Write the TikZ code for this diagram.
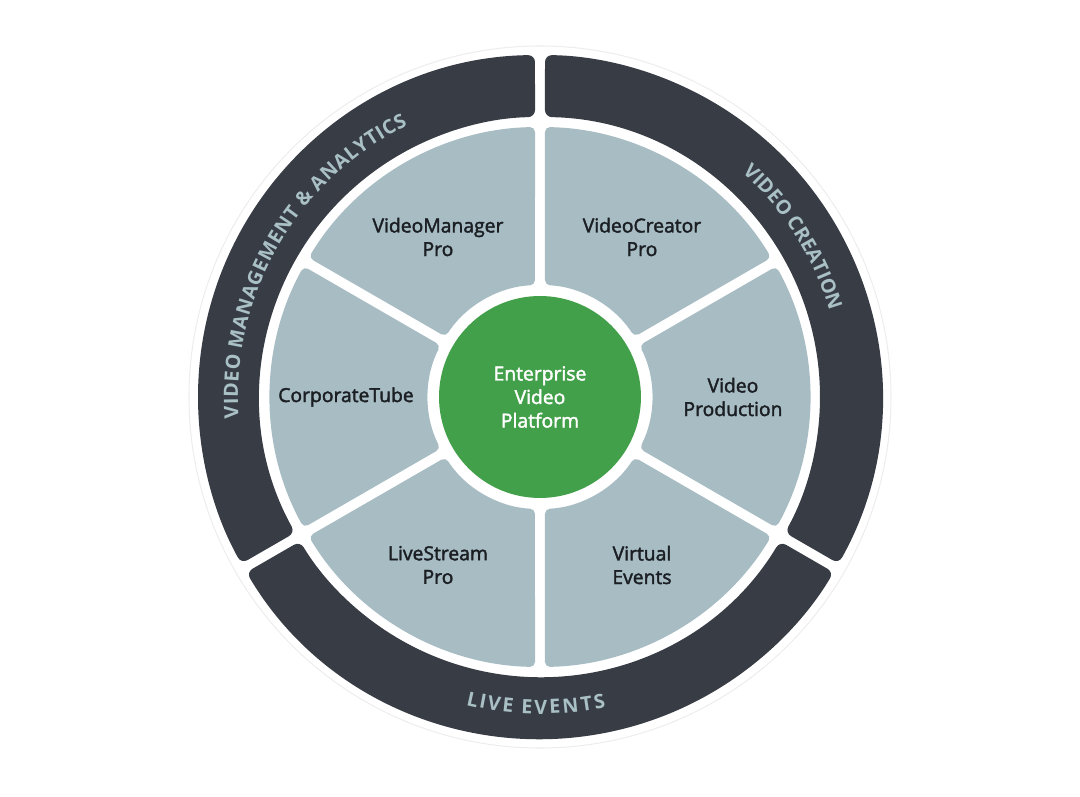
\documentclass[tikz,border=0pt]{standalone}
\usepackage{fontspec}
\setmainfont{Open Sans}
\newfontfamily\lblfont[FakeBold=2.0]{Open Sans}
\newfontfamily\ringfont{Open Sans}
\usetikzlibrary{decorations.text}
\definecolor{ringdark}{HTML}{383C45}
\definecolor{segblue}{HTML}{A7BCC3}
\definecolor{coregreen}{HTML}{43A04A}
\definecolor{ringtext}{HTML}{A9C0C5}
\definecolor{lbltext}{HTML}{1B1F24}
\begin{document}
\begin{tikzpicture}[x=0.02cm, y=0.02cm,
  seg/.style = {fill=segblue, rounded corners=1mm},
  ringpart/.style = {fill=ringdark, rounded corners=1.4mm},
  lbl/.style = {text=lbltext, align=center, font=\lblfont\fontsize{11}{13.4}\selectfont},
  ringlbl/.style = {decorate, decoration={text effects along path, text={#1},
      text effects/.cd, text along path, fit text to path,
      characters={text=ringtext, font=\ringfont\bfseries\fontsize{11.2}{12}\selectfont,
        anchor=base, inner sep=0pt}}}]
  \useasboundingbox (-540,-400) rectangle (540,397);
  % faint halo
  \draw[black!7, line width=0.6pt] (0,0) circle[radius=351];
  % outer ring, three parts
  \foreach \a in {150,30,270} {
    \fill[ringpart] (\a-60+0.84:342) arc[start angle=\a-60+0.84, end angle=\a+60-0.84, radius=342]
      -- (\a+60-1.02:280) arc[start angle=\a+60-1.02, end angle=\a-60+1.02, radius=280] -- cycle;
  }
  % six inner sectors
  \foreach \a in {0,60,...,300} {
    \fill[seg] (\a-30+1.06:270) arc[start angle=\a-30+1.06, end angle=\a+30-1.06, radius=270]
      -- (\a+30-2.56:112) arc[start angle=\a+30-2.56, end angle=\a-30+2.56, radius=112] -- cycle;
  }
  % ring texts
  \path[ringlbl={VIDEO MANAGEMENT {\&} ANALYTICS}] (184:302) arc[start angle=184, end angle=116, radius=302];
  \path[ringlbl={VIDEO CREATION}] (48:302) arc[start angle=48, end angle=16.5, radius=302];
  \path[ringlbl={LIVE EVENTS}] (256.5:317) arc[start angle=256.5, end angle=282, radius=317];
  % core
  \node[circle, fill=coregreen, minimum size=4.04cm, text=white, align=center,
    font=\lblfont\fontsize{11}{13.4}\selectfont] (core) at (0,0) {Enterprise\\Video\\Platform};
  % sector labels
  \node[lbl] (vm) at (-102,160) {VideoManager\\Pro};
  \node[lbl] (vc) at (102,160) {VideoCreator\\Pro};
  \node[lbl] (ct) at (-194,0) {CorporateTube};
  \node[lbl] (vp) at (193,0) {Video\\Production};
  \node[lbl] (ls) at (-102,-168) {LiveStream\\Pro};
  \node[lbl] (ve) at (102,-168) {Virtual\\Events};
\end{tikzpicture}
\end{document}
